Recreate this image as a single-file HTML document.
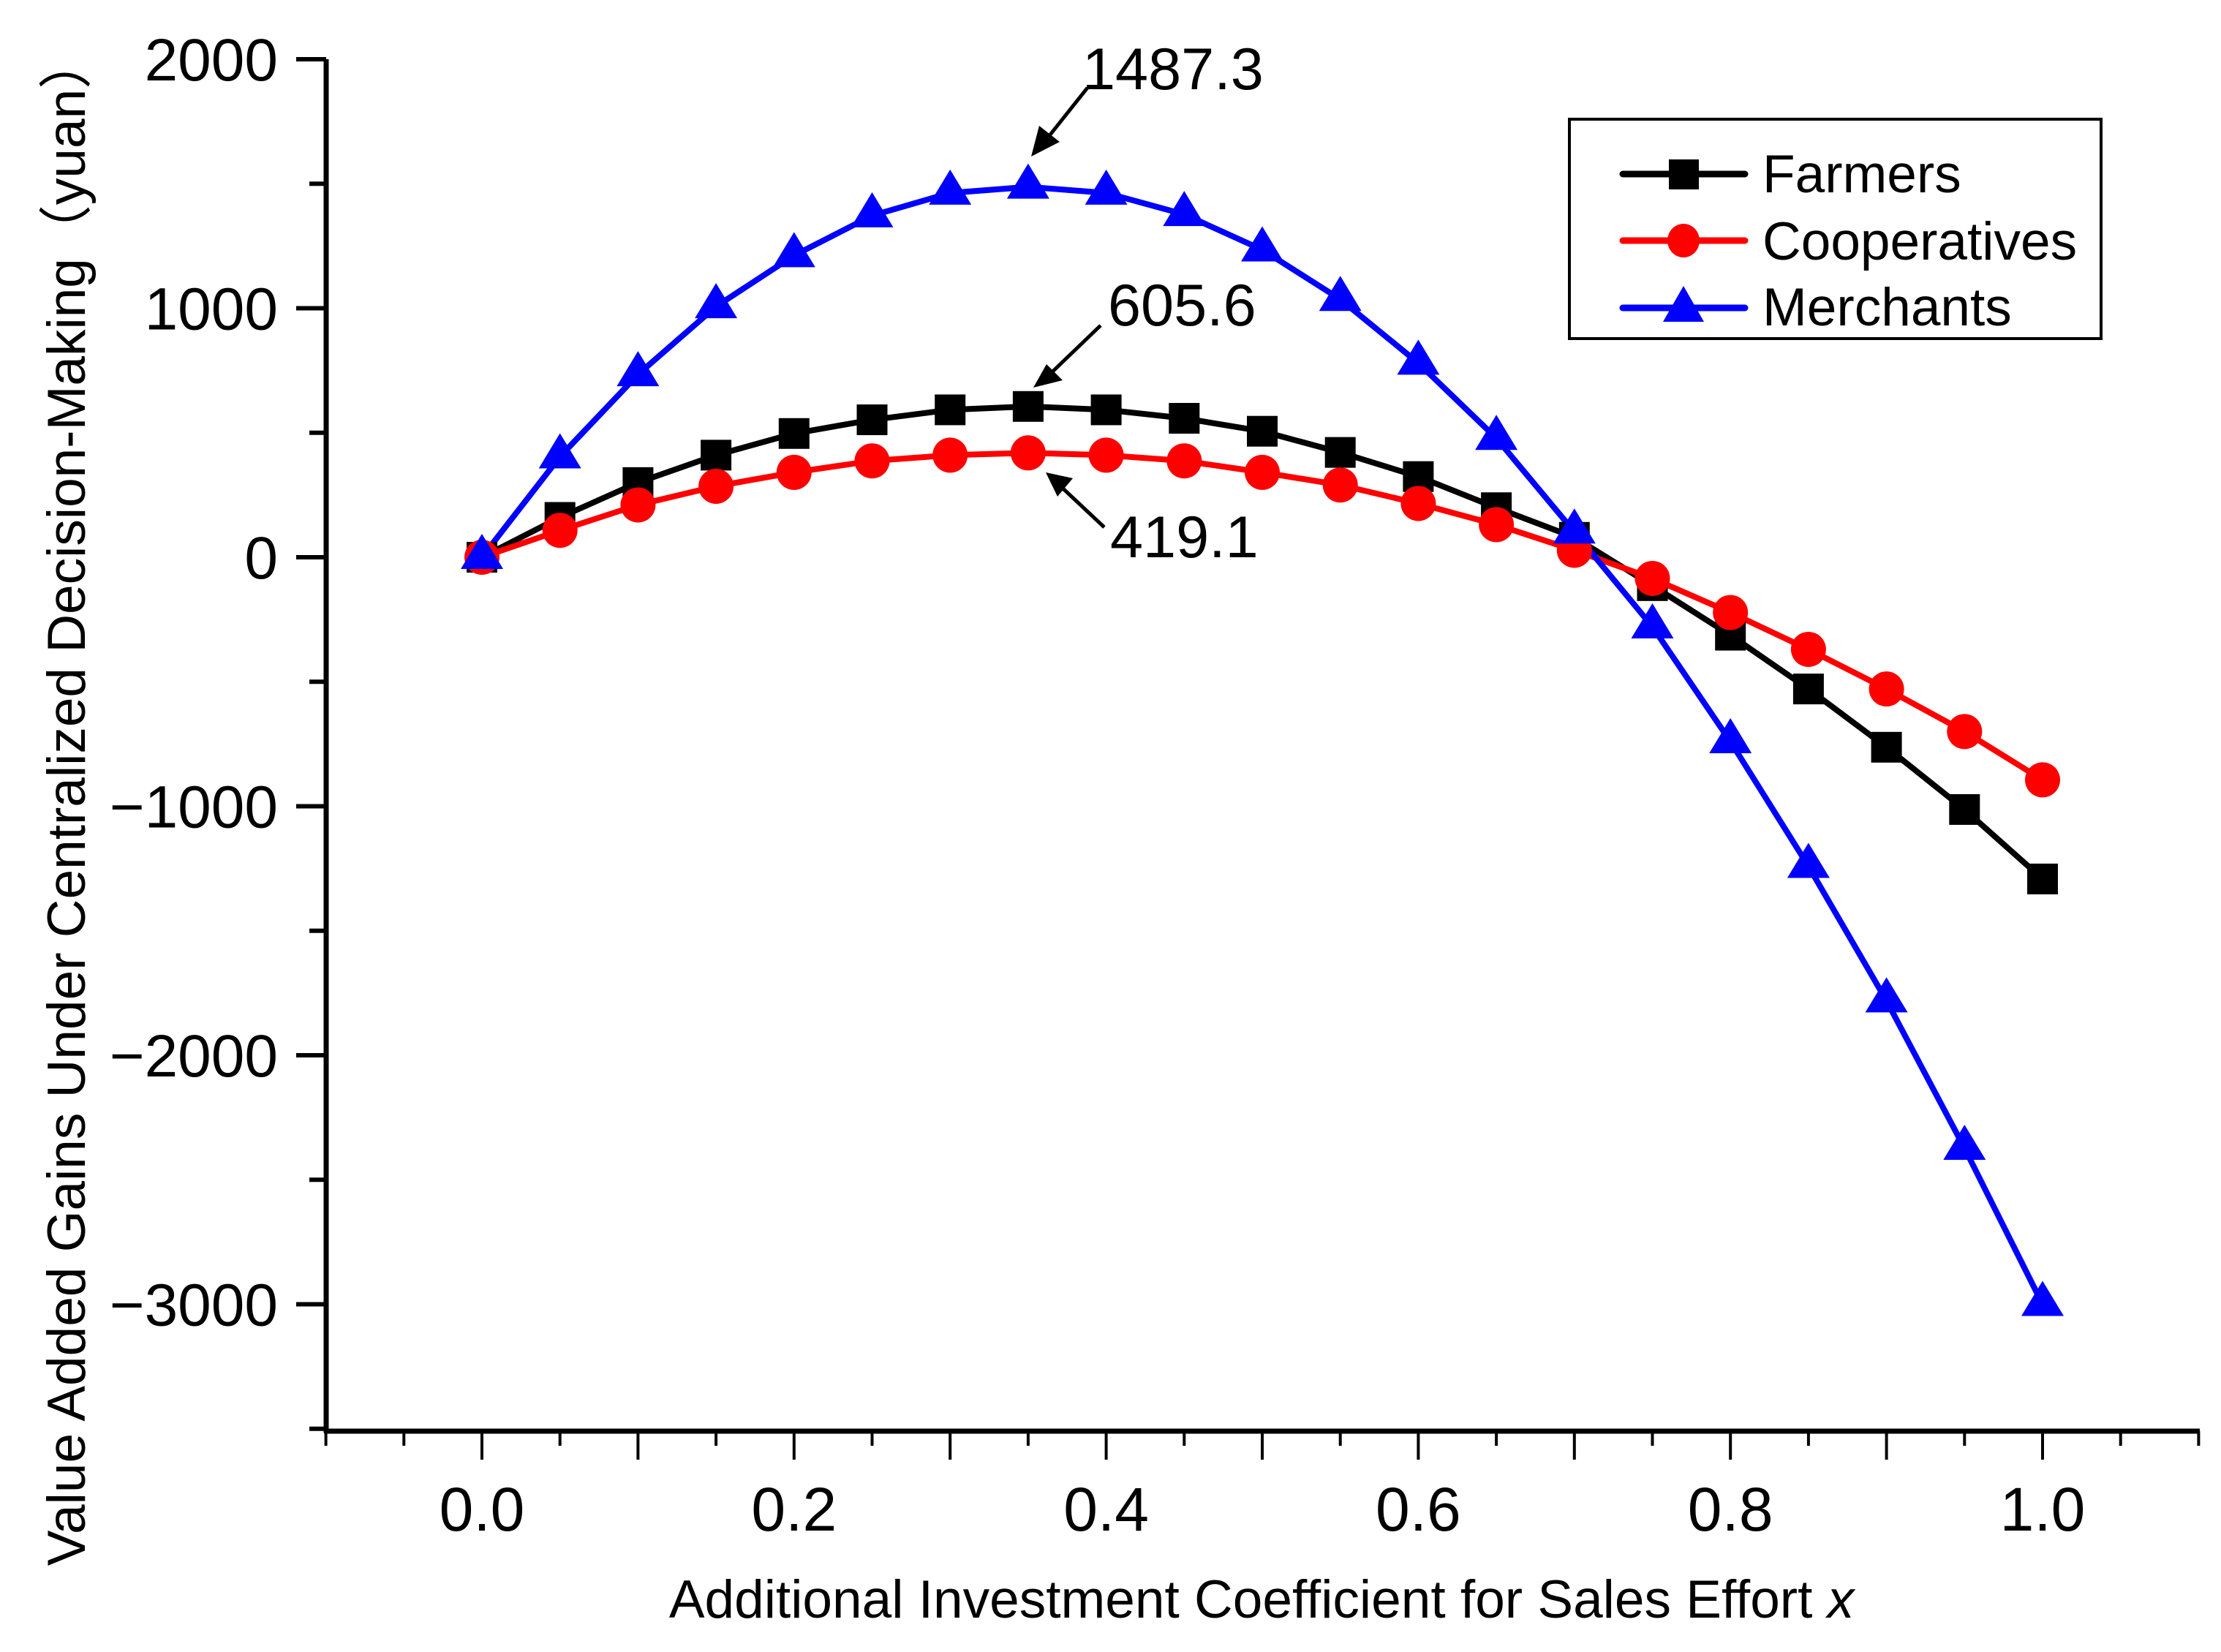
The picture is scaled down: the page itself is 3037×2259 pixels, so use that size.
<!DOCTYPE html>
<html><head><meta charset="utf-8"><style>
html,body{margin:0;padding:0;background:#fff}
svg{display:block;font-family:"Liberation Sans",Arial,sans-serif}
</style></head><body>
<svg id="chart" width="3037" height="2259" viewBox="0 0 3037 2259" xmlns="http://www.w3.org/2000/svg">
<g id="axes"></g>
<g id="series"></g>
<text x="116" y="1095" font-size="73" text-anchor="middle" transform="rotate(-90 116 1095)">Value Added Gains Under Centralized Decision-Making（yuan）</text>
<text x="1725" y="2212" font-size="73" text-anchor="middle">Additional Investment Coefficient for Sales Effort <tspan font-style="italic">x</tspan></text>
<g>
<rect x="2146" y="163" width="727" height="300" fill="#fff" stroke="#000" stroke-width="4"/>
<g><line x1="2219" y1="238" x2="2386" y2="238" stroke="#000" stroke-width="9" stroke-linecap="round"/><rect x="2282" y="218" width="41" height="41" fill="#000"/><text x="2410" y="263" font-size="73">Farmers</text></g>
<g><line x1="2219" y1="329" x2="2386" y2="329" stroke="#f00" stroke-width="9" stroke-linecap="round"/><ellipse cx="2302" cy="329" rx="22" ry="23" fill="#f00"/><text x="2410" y="355" font-size="73">Cooperatives</text></g>
<g><line x1="2219" y1="421" x2="2386" y2="421" stroke="#00f" stroke-width="9" stroke-linecap="round"/><polygon points="2302,391 2330,440 2274,440" fill="#00f"/><text x="2410" y="445" font-size="73">Merchants</text></g>
</g>
<g font-size="81">
<text x="1480" y="122">1487.3</text>
<text x="1515" y="445">605.6</text>
<text x="1518" y="762">419.1</text>
<g stroke="#000" stroke-width="5" fill="#000">
<line x1="1487" y1="120" x2="1425" y2="198"/><polygon points="1410,214 1421,172 1449,194" stroke="none"/>
<line x1="1505" y1="445" x2="1430" y2="517"/><polygon points="1413,530 1431,498 1453,520" stroke="none"/>
<line x1="1510" y1="721" x2="1445" y2="660"/><polygon points="1430,646 1467,654 1446,679" stroke="none"/>
</g></g>
</svg>
<script>
const xValues=[0,0.05,0.1,0.15,0.2,0.25,0.3,0.35,0.4,0.45,0.5,0.55,0.6,0.65,0.7,0.75,0.8,0.85,0.9,0.95,1.0];
const farmers=[0,160,300,410,497,552,592,605.6,592,558,506,421,324,199,80,-114,-313,-529,-763,-1013,-1292];
const cooperatives=[0,108,210,285,341,387,410,419.1,410,387,341,290,216,131,28,-85,-222,-370,-529,-700,-894];
const merchants=[0,404,734,1007,1212,1372,1463,1487.3,1463,1377,1235,1036,780,478,102,-279,-740,-1241,-1781,-2373,-3000];
const xTicks=[0,0.2,0.4,0.6,0.8,1.0];
const xTickLabels=["0.0","0.2","0.4","0.6","0.8","1.0"];
const yTicks=[2000,1000,0,-1000,-2000,-3000];
const yTickLabels=["2000","1000","0","\u22121000","\u22122000","\u22123000"];
const NS="http://www.w3.org/2000/svg";
const sx=v=>659+v*2134;
const sy=v=>762-v*0.3405;
function mk(tag,attrs,parent){const e=document.createElementNS(NS,tag);for(const k in attrs)e.setAttribute(k,attrs[k]);parent.appendChild(e);return e;}
const axes=document.getElementById('axes');
const yAx=mk('line',{x1:446,y1:sy(2000),x2:446,y2:1959,stroke:'#000','stroke-width':7},axes);


const xAx=mk('line',{x1:443,y1:1957,x2:3008,y2:1957,stroke:'#000','stroke-width':7},axes);


for(let v=2000;v>=-3500;v-=500){const major=v%1000===0;const t=mk('line',{x1:major?405:423,y1:sy(v),x2:446,y2:sy(v),stroke:'#000','stroke-width':6},axes);

}
yTicks.forEach((v,i)=>{const t=mk('text',{x:380,y:sy(v)+29,'font-size':82,'text-anchor':'end'},axes);t.textContent=yTickLabels[i];

});
for(let k=-2;k<=22;k++){const v=k*0.05;const major=k%2===0&&k>=0&&k<=20;const t=mk('line',{x1:sx(v),y1:1957,x2:sx(v),y2:major?1996:1977,stroke:'#000','stroke-width':4},axes);

}
xTicks.forEach((v,i)=>{const t=mk('text',{x:sx(v),y:2093,'font-size':84,'text-anchor':'middle'},axes);t.textContent=xTickLabels[i];

});
const ser=document.getElementById('series');
function line(vals,color,name){const p=mk('polyline',{points:vals.map((v,i)=>sx(xValues[i])+','+sy(v)).join(' '),fill:'none',stroke:color,'stroke-width':8,'stroke-linejoin':'round'},ser);

}
line(farmers,'#000','farmers');
line(cooperatives,'#f00','cooperatives');
line(merchants,'#00f','merchants');
farmers.forEach((v,i)=>{const m=mk('rect',{x:sx(xValues[i])-21,y:sy(v)-21,width:42,height:42,fill:'#000'},ser);

});
cooperatives.forEach((v,i)=>{const m=mk('circle',{cx:sx(xValues[i]),cy:sy(v),r:24,fill:'#f00'},ser);

});
merchants.forEach((v,i)=>{const x=sx(xValues[i]),y=sy(v);const m=mk('polygon',{points:`${x},${y-32} ${x+29},${y+16} ${x-29},${y+16}`,fill:'#00f'},ser);

});
</script>
</body></html>
